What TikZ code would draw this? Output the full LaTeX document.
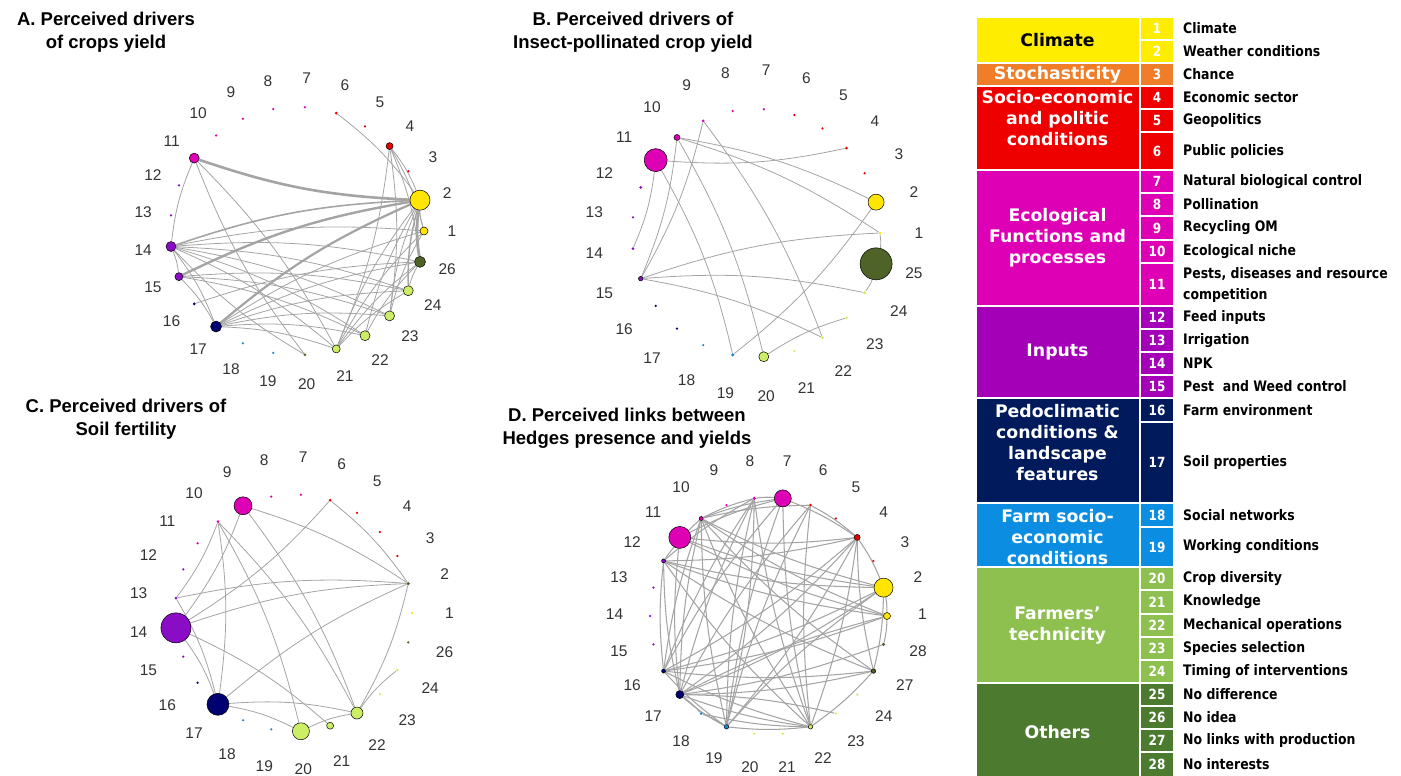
\documentclass[tikz,border=0pt]{standalone}
\usepackage{fontspec}
\setmainfont{Liberation Sans}
\newfontfamily\catfont{DejaVu Sans}
\newfontfamily\itemfont[FakeStretch=0.86]{DejaVu Sans}
\usetikzlibrary{backgrounds}
% node colours of the networks
\definecolor{nclim}{HTML}{FFE500}
\definecolor{nsocio}{HTML}{E80000}
\definecolor{neco}{HTML}{DD00B4}
\definecolor{ninp}{HTML}{8A0CC4}
\definecolor{npedo}{HTML}{000070}
\definecolor{nfarm}{HTML}{1E88D0}
\definecolor{ntech}{HTML}{CCEE66}
\definecolor{noth}{HTML}{4F6228}
\definecolor{edgegray}{HTML}{A4A4A4}
% legend colours
\definecolor{lclim}{HTML}{FFED00}
\definecolor{lstoch}{HTML}{F07D28}
\definecolor{lsocio}{HTML}{EE0000}
\definecolor{leco}{HTML}{DD00B5}
\definecolor{linp}{HTML}{A300B8}
\definecolor{lpedo}{HTML}{001A5C}
\definecolor{lfarm}{HTML}{0B8DE2}
\definecolor{ltech}{HTML}{8DC04F}
\definecolor{loth}{HTML}{4C7A2F}

\begin{document}
\begin{tikzpicture}[x=1pt, y=-1pt,
    vert/.style={circle, inner sep=0pt, line width=0.5pt},
    numlab/.style={font=\fontsize{15.5}{18}\selectfont, text=black!80, inner sep=0pt},
    edge/.style={draw=edgegray, line width=0.8pt},
    title/.style={font=\fontsize{18.5}{23}\selectfont\bfseries, align=center, inner sep=0pt},
    catlab/.style={font=\catfont\bfseries\fontsize{17.3}{21}\selectfont, align=center, inner sep=0pt},
    numcell/.style={font=\itemfont\bfseries\fontsize{14}{16}\selectfont, text=white, inner sep=0pt},
    itemlab/.style={font=\itemfont\bfseries\fontsize{14.5}{21}\selectfont, anchor=west, align=left, inner sep=0pt}]
    \useasboundingbox (0,0) rectangle (1401,776);

    % titres
    \node[title] (tA) at (106,32.5) {A. Perceived drivers\\of crops yield};
    \node[title] (tB) at (633,32) {B. Perceived drivers of\\Insect-pollinated crop yield};
    \node[title] (tC) at (126,419.5) {C. Perceived drivers of\\Soil fertility};
    \node[title] (tD) at (627,428) {D. Perceived links between\\Hedges presence and yields};

    % A - crops yield
    \foreach \lab/\col/\sz/\bd [count=\k from 0] in {1/nclim/8/black, 2/nclim/20/black, 3/nsocio/2.5/none, 4/nsocio/7/black, 5/nsocio/2.5/none, 6/nsocio/3/none, 7/neco/2.5/none, 8/neco/2.5/none, 9/neco/2.5/none, 10/neco/2.5/none, 11/neco/10/black, 12/ninp/2.5/none, 13/ninp/2.5/none, 14/ninp/10/black, 15/ninp/8/black, 16/npedo/3/none, 17/npedo/11/black, 18/nfarm/2.5/none, 19/nfarm/2.5/none, 20/noth/3/none, 21/ntech/8/black, 22/ntech/10/black, 23/ntech/10/black, 24/ntech/10/black, 26/noth/11/black} {
        \node[vert, fill=\col, draw=\bd, minimum size=\sz pt] (A\lab) at ({297+127*cos(\k*14.4)}, {231-124*sin(\k*14.4)}) {};
        \node[numlab] (lA\lab) at ({297+155*cos(\k*14.4)}, {231-153*sin(\k*14.4)}) {\lab};
    }
    % B - insect-pollinated crop yield
    \foreach \lab/\col/\sz/\bd [count=\k from 0] in {1/nclim/3/none, 2/nclim/16/black, 3/nsocio/2.5/none, 4/nsocio/3/none, 5/nsocio/2.5/none, 6/nsocio/2.5/none, 7/neco/2.5/none, 8/neco/2.5/none, 9/neco/3/none, 10/neco/6/black, 11/neco/23/black, 12/ninp/3/none, 13/ninp/2.5/none, 14/ninp/3/none, 15/ninp/4.5/black, 16/npedo/2.5/none, 17/npedo/2.5/none, 18/nfarm/2.5/none, 19/nfarm/3.5/none, 20/ntech/10/black, 21/ntech/2.5/none, 22/ntech/3/none, 23/ntech/3/none, 24/ntech/3.5/none, 25/noth/32/black} {
        \node[vert, fill=\col, draw=\bd, minimum size=\sz pt] (B\lab) at ({756+124*cos(\k*14.4)}, {233-124*sin(\k*14.4)}) {};
        \node[numlab] (lB\lab) at ({756+163*cos(\k*14.4)}, {233-163*sin(\k*14.4)}) {\lab};
    }
    % C - soil fertility
    \foreach \lab/\col/\sz/\bd [count=\k from 0] in {1/nclim/2.5/none, 2/noth/3.5/none, 3/nsocio/2.5/none, 4/nsocio/2.5/none, 5/nsocio/2.5/none, 6/nsocio/3/none, 7/neco/2.5/none, 8/neco/2.5/none, 9/neco/18/black, 10/neco/3/none, 11/neco/2.5/none, 12/ninp/2.5/none, 13/ninp/3/none, 14/ninp/30/black, 15/ninp/2.5/none, 16/npedo/2.5/none, 17/npedo/22/black, 18/nfarm/2.5/none, 19/nfarm/2.5/none, 20/ntech/17/black, 21/ntech/7/black, 22/ntech/12/black, 23/ntech/2.5/none, 24/ntech/3/none, 26/noth/2.5/none} {
        \node[vert, fill=\col, draw=\bd, minimum size=\sz pt] (C\lab) at ({293.5+118.5*cos(\k*14.4)}, {613-118.5*sin(\k*14.4)}) {};
        \node[numlab] (lC\lab) at ({293.5+156*cos(\k*14.4)}, {613-156*sin(\k*14.4)}) {\lab};
    }
    % D - hedges and yields
    \foreach \lab/\col/\sz/\bd [count=\k from 0] in {1/nclim/7/black, 2/nclim/19/black, 3/nsocio/2.5/none, 4/nsocio/6/black, 5/nsocio/2.5/none, 6/nsocio/3/none, 7/neco/17/black, 8/neco/3.5/none, 9/neco/2.5/none, 10/neco/4/black, 11/neco/22/black, 12/ninp/4/black, 13/ninp/2.5/none, 14/ninp/2.5/none, 15/ninp/2.5/none, 16/npedo/4/black, 17/npedo/8/black, 18/nfarm/3/none, 19/nfarm/4.5/black, 20/ntech/2.5/none, 21/ntech/2.5/none, 22/ntech/4.5/black, 23/ntech/2.5/none, 24/ntech/2.5/none, 27/noth/4.5/black, 28/noth/3.5/none} {
        \node[vert, fill=\col, draw=\bd, minimum size=\sz pt] (D\lab) at ({768.5+118.5*cos(\k*13.84615)}, {616-118.5*sin(\k*13.84615)}) {};
        \node[numlab] (lD\lab) at ({768.5+154*cos(\k*13.84615)}, {614-154*sin(\k*13.84615)}) {\lab};
    }

    % liens
    \begin{scope}[on background layer]
        \foreach \a/\b in {6/2, 4/2, 4/1, 4/26, 4/23, 4/21, 14/11, 11/21, 14/17, 14/15, 14/1, 14/26, 14/24, 14/23, 14/22, 14/21, 15/17, 15/24, 15/22, 15/23, 16/26, 17/1, 17/26, 17/24, 17/23, 17/22, 17/21, 20/14, 20/11, 21/2, 21/1, 21/26, 22/2, 23/2, 1/2, 22/26, 23/1, 24/26, 21/24}
            \draw[edge] (A\a) to[bend left=8] (A\b);
        \foreach \a/\b/\w in {2/11/2.6, 26/2/2.8, 15/2/2.4, 17/2/2.2, 14/2/1.6, 24/2/1.4}
            \draw[edge, line width=\w pt] (A\a) to[bend left=8] (A\b);
        \foreach \a/\b in {4/11, 11/14, 11/19, 10/2, 10/1, 10/20, 10/15, 9/22, 9/15, 15/1, 15/24, 15/22, 2/19, 20/23, 1/25, 25/24}
            \draw[edge] (B\a) to[bend left=8] (B\b);
        \foreach \a/\b in {9/2, 9/22, 9/14, 6/2, 6/14, 10/13, 10/20, 10/22, 13/2, 14/2, 14/17, 13/17, 14/21, 17/2, 17/22, 17/20, 20/22, 22/24, 2/22, 10/17}
            \draw[edge] (C\a) to[bend left=8] (C\b);
        \foreach \a/\b in {8/7, 7/4, 6/4, 10/8, 10/6, 10/7, 12/10, 4/2, 4/11, 4/12, 4/16, 4/17, 4/19, 4/22, 2/12, 2/11, 2/10, 2/16, 2/17, 2/1, 2/27, 1/12, 1/11, 1/10, 1/16, 1/28, 27/12, 27/16, 27/17, 27/10, 27/22, 27/4, 22/7, 22/8, 22/10, 22/12, 22/16, 22/17, 22/18, 22/19, 22/6, 19/7, 19/8, 19/6, 19/16, 19/17, 19/2, 19/10, 16/12, 16/10, 16/7, 16/8, 17/11, 17/10, 17/12, 17/8, 17/6, 17/23, 17/18, 17/1, 18/19, 11/7, 12/8, 8/19, 28/17}
            \draw[edge, line width=1.05pt] (D\a) to[bend left=6] (D\b);
    \end{scope}

    % legende - groupes
    \foreach \ya/\yb/\col/\tc/\dy/\txt [count=\i] in {17/63/lclim/black/0/Climate, 63/86/lstoch/white/0/Stochasticity, 86/170/lsocio/white/-10/{Socio-economic\\and politic\\conditions}, 170/306/leco/white/0/{Ecological\\Functions and\\processes}, 306/398/linp/white/0/Inputs, 398/503/lpedo/white/-8/{Pedoclimatic\\conditions \&\\landscape\\features}, 503/567/lfarm/white/2/{Farm socio-\\economic\\conditions}, 567/683/ltech/white/1/{Farmers’\\technicity}, 683/777/loth/white/2/Others} {
        \filldraw[fill=\col, draw=white, line width=1.5pt] (976,\ya) rectangle (1139.5,\yb);
        \node[catlab, text=\tc] (cat\i) at (1057.5, {(\ya+\yb)/2+\dy}) {\txt};
    }
    % legende - facteurs
    \foreach \n/\ya/\yb/\col/\txt in {1/17/40/lclim/Climate, 2/40/63/lclim/Weather conditions, 3/63/86/lstoch/Chance, 4/86/109/lsocio/Economic sector, 5/109/132/lsocio/Geopolitics, 6/132/170/lsocio/Public policies, 7/170/193/leco/Natural biological control, 8/193/216/leco/Pollination, 9/216/240/leco/Recycling OM, 10/240/263/leco/Ecological niche, 11/263/306/leco/{Pests, diseases and resource\\competition}, 12/306/329/linp/Feed inputs, 13/329/352/linp/Irrigation, 14/352/375/linp/NPK, 15/375/398/linp/{Pest \ and Weed control}, 16/398/422/lpedo/Farm environment, 17/422/503/lpedo/Soil properties, 18/503/527/lfarm/Social networks, 19/527/567/lfarm/Working conditions, 20/567/590/ltech/Crop diversity, 21/590/614/ltech/Knowledge, 22/614/637/ltech/Mechanical operations, 23/637/660/ltech/Species selection, 24/660/683/ltech/Timing of interventions, 25/683/706/loth/No difference, 26/706/729/loth/No idea, 27/729/752/loth/No links with production, 28/752/777/loth/No interests} {
        \filldraw[fill=\col, draw=white, line width=1.5pt] (1140.5,\ya) rectangle (1173.5,\yb);
        \node[numcell] (num\n) at (1157, {(\ya+\yb)/2}) {\n};
        \node[itemlab] (item\n) at (1183, {(\ya+\yb)/2}) {\txt};
    }
\end{tikzpicture}
\end{document}
